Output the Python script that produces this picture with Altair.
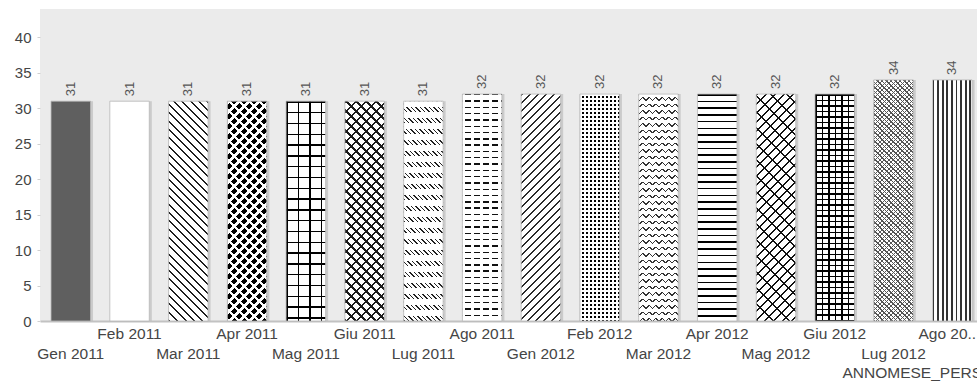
import json
import altair as alt
import pandas as pd

# Personale per mese
mesi = ["Gen 2011", "Feb 2011", "Mar 2011", "Apr 2011", "Mag 2011", "Giu 2011",
        "Lug 2011", "Ago 2011", "Gen 2012", "Feb 2012", "Mar 2012", "Apr 2012",
        "Mag 2012", "Giu 2012", "Lug 2012", "Ago 2012"]
valori = [31, 31, 31, 31, 31, 31, 31, 32, 32, 32, 32, 32, 32, 32, 34, 34]
tick_y = [0, 5, 10, 15, 20, 25, 30, 35, 40]
titolo_x = "ANNOMESE_PERS"

df = pd.DataFrame({"mese": mesi, "valore": valori})

WIDTH, HEIGHT = 937, 312
Y_MAX = 44
PAD_INNER, PAD_OUTER, ALIGN = 0.328, 0.136, 0.69
STEP = WIDTH / (len(mesi) - PAD_INNER + 2 * PAD_OUTER)
BAR_W = STEP * (1 - PAD_INNER)
PX_PER_UNIT = HEIGHT / Y_MAX
CLEAR = "rgba(255,255,255,0)"
FONT = "Liberation Sans"
TXT = "#454545"


def stripes(kind, period, width, color, h, phase=0.0, bg=CLEAR):
    """Linear gradient with hard stops that paints parallel stripes on a bar.

    kind: 'h' horizontal, 'v' vertical, '/' and '\\' diagonals at 45 degrees.
    For diagonals period/width are measured along the x axis.
    """
    w = BAR_W
    if kind == "h":
        coords = dict(x1=0, y1=0, x2=0, y2=1)
        span = h
    elif kind == "v":
        coords = dict(x1=0, y1=0, x2=1, y2=0)
        span = w
    else:
        k = (w + h) * h / (h * h + w * w)
        if kind == "/":
            coords = dict(x1=0, y1=0, x2=k * w / h, y2=k)
        else:
            coords = dict(x1=0, y1=1, x2=k * w / h, y2=1 - k)
        span = w + h
    stops = [(0.0, bg)]
    pos = phase % period - period
    while pos < span:
        a = max(pos / span, 0.0)
        b = min((pos + width) / span, 1.0)
        if b > 0 and a < 1:
            stops += [(a, bg), (a, color), (b, color), (b, bg)]
        pos += period
    stops.append((1.0, bg))
    return alt.Gradient(
        gradient="linear",
        stops=[alt.GradientStop(offset=round(o, 5), color=col) for o, col in stops],
        **coords,
    )


# fill of each bar: base colour + stripe overlays (kind, period, width, colour[, align])
trame = {
    "Gen 2011": ("#5f5f5f", []),
    "Feb 2011": ("#ffffff", []),
    "Mar 2011": ("#ffffff", [("\\", 8.3, 2.0, "#1e1e1e")]),
    "Apr 2011": ("#000000", [("/", 10, 3.6, "#ffffff"), ("\\", 10, 3.6, "#ffffff")]),
    "Mag 2011": ("#ffffff", [("h", 10.8, 1.5, "#000000"), ("v", 11.5, 1.5, "#000000")]),
    "Giu 2011": ("#ffffff", [("/", 10, 2.8, "#1a1a1a"), ("\\", 10, 2.8, "#1a1a1a")]),
    "Lug 2011": ("#ffffff", [("\\", 4.5, 1.6, "#222222"), ("h", 11, 5.5, "#ffffff")]),
    "Ago 2011": ("#ffffff", [("h", 6.3, 1.4, "#111111"), ("v", 9, 3, "#ffffff")]),
    "Gen 2012": ("#ffffff", [("/", 8, 2.2, "#2a2a2a")]),
    "Feb 2012": ("#000000", [("h", 4, 1.8, "#ffffff"), ("v", 4, 1.8, "#ffffff")]),
    "Mar 2012": ("#ffffff", [("/", 6.5, 1.6, "#333333"), ("\\", 6.5, 1.6, "#333333", True),
                             ("h", 6.5, 3.25, "#ffffff")]),
    "Apr 2012": ("#ffffff", [("h", 6.7, 1.6, "#000000")]),
    "Mag 2012": ("#ffffff", [("/", 9, 1.8, "#111111"), ("\\", 16, 1.8, "#111111")]),
    "Giu 2012": ("#ffffff", [("h", 5.5, 1.5, "#000000"), ("v", 6.5, 1.5, "#000000")]),
    "Lug 2012": ("#ffffff", [("/", 4.5, 1.3, "#555555"), ("\\", 4.5, 1.3, "#555555")]),
    "Ago 2012": ("#ffffff", [("v", 4.6, 1.8, "#333333")]),
}

ordine = json.dumps(mesi)
ultimo = mesi[-1]
label_expr = (
    f"indexof({ordine}, datum.value) % 2 == 1 ? "
    f"(datum.value == '{ultimo}' ? '{ultimo[:6]}..' : datum.label) : ['', datum.label]"
)

x_enc = alt.X(
    "mese:N",
    sort=mesi,
    scale=alt.Scale(paddingInner=PAD_INNER, paddingOuter=PAD_OUTER, align=ALIGN),
    axis=alt.Axis(
        title=titolo_x,
        labelAngle=0,
        labelExpr=label_expr,
        labelBaseline="top",
        labelLineHeight=20,
        labelPadding=5,
        labelOffset={"condition": {"test": f"datum.value == '{ultimo}'", "value": -5},
                     "value": 0},
        labelOverlap=False,
        labelFlush=False,
        labelFont=FONT,
        labelFontSize=15.5,
        labelColor=TXT,
        ticks=False,
        domainColor="#c2c2c2",
        domainWidth=2,
        titleFont=FONT,
        titleFontSize=15.5,
        titleFontWeight="normal",
        titleColor=TXT,
        titleAlign="left",
        titleBaseline="alphabetic",
        titleX=802,
        titleY=56,
    ),
)
y_enc = alt.Y(
    "valore:Q",
    scale=alt.Scale(domain=[0, Y_MAX], nice=False),
    axis=alt.Axis(
        title=None,
        values=tick_y,
        grid=False,
        domain=False,
        tickSize=3,
        tickColor="#cfcfcf",
        labelPadding=6,
        labelFont=FONT,
        labelFontSize=15,
        labelColor=TXT,
    ),
)

base = alt.Chart(df).encode(x=x_enc, y=y_enc)

layers = [base.mark_bar(color="#bdbdbd", opacity=0.7, xOffset=2.5)]
for mese, valore in zip(mesi, valori):
    h = valore * PX_PER_UNIT
    colore, sovrapposte = trame[mese]
    sel = base.transform_filter(alt.datum.mese == mese)
    layers.append(sel.mark_bar(color=colore))
    for s in sovrapposte:
        kind, period, width, col = s[:4]
        phase = h if len(s) > 4 else 0.0
        layers.append(sel.mark_bar(fill=stripes(kind, period, width, col, h, phase)))

layers.append(base.mark_bar(fillOpacity=0, stroke="#b8b8b8", strokeWidth=0.8))
layers.append(
    base.mark_text(angle=270, align="left", baseline="middle", dx=5,
                   font=FONT, fontSize=13, color="#555555").encode(text="valore:Q")
)

chart = (
    alt.layer(*layers)
    .properties(
        width=WIDTH,
        height=HEIGHT,
        autosize=alt.AutoSizeParams(type="none"),
        padding={"left": 40, "top": 9, "right": 0, "bottom": 60},
        background="#ffffff",
    )
    .configure_view(fill="#ebebeb", strokeWidth=0)
)

chart.save("out.html", embed_options={"renderer": "svg", "actions": False})
